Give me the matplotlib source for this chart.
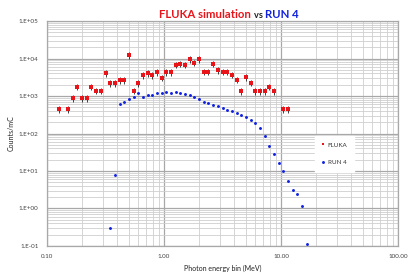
import matplotlib

matplotlib.use('Agg')

import matplotlib.pyplot as plt
import numpy as np
from matplotlib.ticker import FixedLocator, LogLocator, NullFormatter

# energy bin centres (MeV), 25 log bins per decade
fluka_e = [0.1259, 0.1514, 0.1660, 0.1820, 0.1995, 0.2188, 0.2399, 0.2630,
           0.2884, 0.3162, 0.3467, 0.3802, 0.4169, 0.4571, 0.5012, 0.5495,
           0.6026, 0.6607, 0.7244, 0.7943, 0.8710, 0.9550, 1.0471, 1.1482,
           1.2589, 1.3804, 1.5136, 1.6596, 1.8197, 1.9953, 2.1878, 2.3988,
           2.6303, 2.8840, 3.1623, 3.4674, 3.8019, 4.1687, 4.5709, 5.0119,
           5.4954, 6.0256, 6.6069, 7.2444, 7.9433, 8.7096, 10.4713, 11.4815]
fluka_counts = [450, 450, 885, 1775, 885, 885, 1775, 1387,
                1387, 4020, 2178, 2178, 2670, 2670, 12150, 1387,
                2178, 3560, 4020, 3560, 4365, 3080, 4365, 4365,
                6850, 7280, 6850, 9500, 7740, 9500, 4460, 4460,
                7280, 4935, 4460, 4460, 3710, 2730, 1360, 3210,
                2270, 1360, 1360, 1360, 1775, 1360, 450, 450]
fluka_rel_err = 0.2

run4_e = [0.3467, 0.3802, 0.4169, 0.4571, 0.5012, 0.5495, 0.6026, 0.6607,
          0.7244, 0.7943, 0.8710, 0.9550, 1.0471, 1.1482, 1.2589, 1.3804,
          1.5136, 1.6596, 1.8197, 1.9953, 2.1878, 2.3988, 2.6303, 2.8840,
          3.1623, 3.4674, 3.8019, 4.1687, 4.5709, 5.0119, 5.4954, 6.0256,
          6.6069, 7.2444, 7.9433, 8.7096, 9.5499, 10.4713, 11.4815, 12.5893,
          13.8038, 15.1356, 16.5959]
run4_counts = [0.296, 7.68, 600, 678, 849, 921, 1178, 960,
               1086, 1042, 1178, 1227, 1253, 1227, 1306, 1227,
               1107, 1042, 921, 832, 692, 637, 587, 541,
               479, 432, 398, 345, 311, 270, 234, 187,
               140, 84, 47.4, 29.0, 16.7, 10.2, 5.41, 3.05,
               2.39, 1.14, 0.115]

y_ticks = [1e-1, 1e0, 1e1, 1e2, 1e3, 1e4, 1e5]
y_tick_labels = ['1.E-01', '1.E+00', '1.E+01', '1.E+02', '1.E+03', '1.E+04', '1.E+05']
x_ticks = [0.1, 1, 10, 100]
x_tick_labels = ['0.10', '1.00', '10.00', '100.00']

plt.rcParams['font.family'] = ['Lato', 'DejaVu Sans']

red = '#e8141a'
blue = '#1020e0'

fig = plt.figure(figsize=(4.15, 2.77), dpi=100)
ax = fig.add_axes([0.1133, 0.112, 0.8457, 0.812])

fluka_counts = np.array(fluka_counts)
ax.errorbar(fluka_e, fluka_counts, yerr=fluka_rel_err * fluka_counts, fmt='s',
            color=red, ms=2.4, mew=0, ecolor='#222222', elinewidth=0.6,
            capsize=0, zorder=3)
fl_handle, = ax.plot([], [], 's', color=red, ms=2.0, mew=0)
run_handle, = ax.plot(run4_e, run4_counts, 'o', color=blue, ms=2.1, mew=0, zorder=3)

ax.set_xscale('log')
ax.set_yscale('log')
ax.set_xlim(0.1, 100)
ax.set_ylim(0.1, 1e5)

ax.xaxis.set_major_locator(FixedLocator(x_ticks))
ax.set_xticklabels(x_tick_labels)
ax.yaxis.set_major_locator(FixedLocator(y_ticks))
ax.set_yticklabels(y_tick_labels)
ax.xaxis.set_minor_locator(LogLocator(base=10, subs=np.arange(2, 10)))
ax.yaxis.set_minor_locator(LogLocator(base=10, subs=np.arange(2, 10)))
ax.xaxis.set_minor_formatter(NullFormatter())
ax.yaxis.set_minor_formatter(NullFormatter())

ax.tick_params(which='both', length=0, labelsize=4.5, labelcolor='#444444', pad=6)
ax.grid(which='major', color='#a8a8a8', lw=0.9)
ax.grid(which='minor', color='#cfcfcf', lw=0.6)
ax.set_axisbelow(True)
for s in ax.spines.values():
    s.set_color('#a8a8a8')
    s.set_linewidth(0.9)

ax.set_xlabel('Photon energy bin (MeV)', fontsize=5, color='#222222', labelpad=4)
ax.set_ylabel('Counts/mC', fontsize=5, color='#222222', labelpad=3)

leg = ax.legend([fl_handle, run_handle], ['FLUKA', 'RUN 4'],
                loc='center left', bbox_to_anchor=(0.755, 0.41), fontsize=4.5,
                frameon=True, fancybox=False, edgecolor='white', framealpha=1,
                handlelength=0.6, handletextpad=0.4, labelspacing=2.0,
                borderpad=1.0)
for t in leg.get_texts():
    t.set_color('#333333')

# title in three colours
fig.canvas.draw()
renderer = fig.canvas.get_renderer()
parts = [('FLUKA simulation ', red, 8.2), ('vs ', '#222222', 6.6), ('RUN 4', blue, 8.2)]
texts = []
widths = []
for s, c, fs in parts:
    t = fig.text(0, 0.935, s, color=c, fontsize=fs, fontweight='bold',
                 ha='left', va='baseline')
    texts.append(t)
    widths.append(t.get_window_extent(renderer).width / fig.bbox.width)
x0 = 0.551 - sum(widths) / 2
for t, w in zip(texts, widths):
    t.set_x(x0)
    x0 += w

fig.savefig('out.png', dpi=100)
